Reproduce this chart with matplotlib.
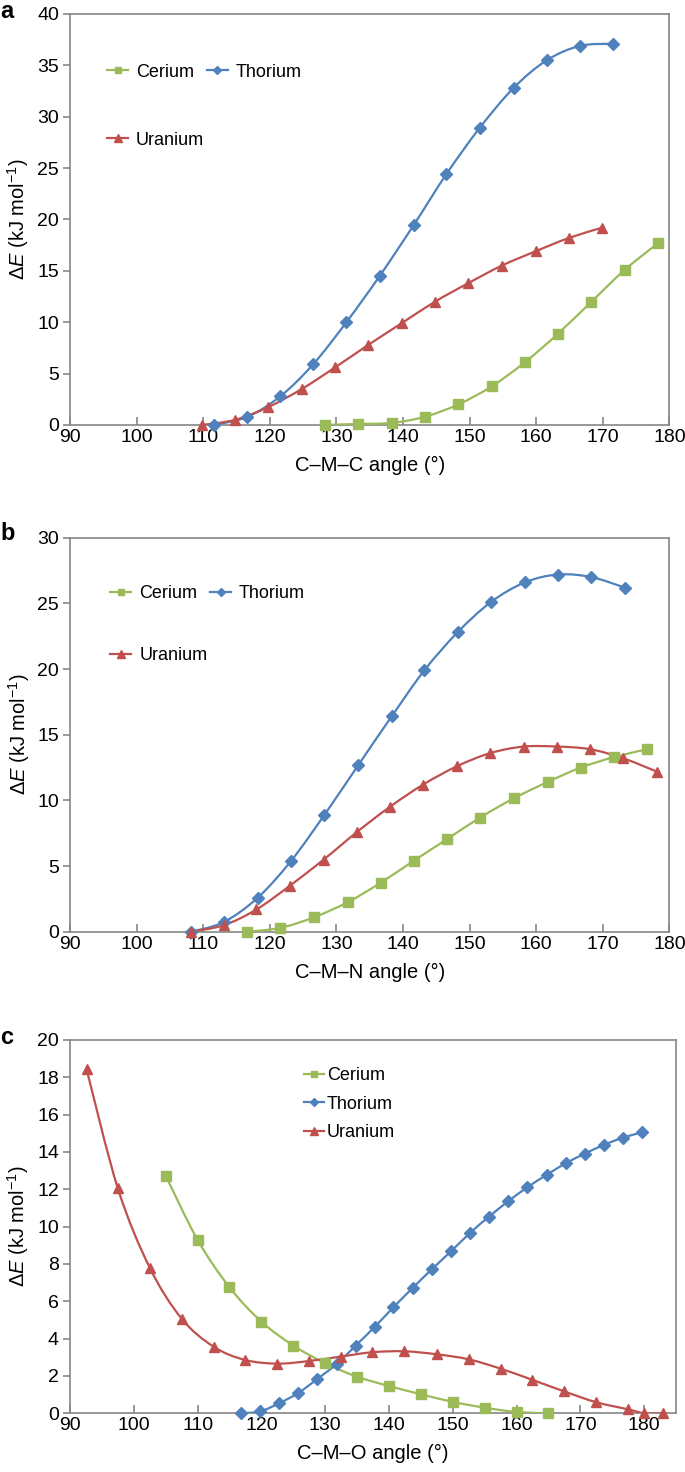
import numpy as np
import matplotlib.pyplot as plt
from matplotlib.path import Path
from matplotlib.patches import PathPatch
from matplotlib.lines import Line2D

plt.rcParams['font.family'] = ['Liberation Sans', 'DejaVu Sans']
plt.rcParams['mathtext.fontset'] = 'custom'
plt.rcParams['mathtext.rm'] = 'Liberation Sans'
plt.rcParams['mathtext.it'] = 'Liberation Sans:italic'

# panel a: C-M-C
a_ce_x = [128.3, 133.3, 138.3, 143.3, 148.3, 153.3, 158.3, 163.3, 168.3, 173.3, 178.3]
a_ce_y = [0, 0.1, 0.2, 0.8, 2.0, 3.75, 6.1, 8.9, 12.0, 15.1, 17.7]
a_th_x = [111.6, 116.6, 121.6, 126.5, 131.5, 136.5, 141.6, 146.5, 151.5, 156.6, 161.6, 166.6, 171.6]
a_th_y = [0, 0.78, 2.8, 5.9, 10.0, 14.5, 19.45, 24.4, 28.9, 32.8, 35.5, 36.9, 37.1]
a_u_x = [109.8, 114.8, 119.8, 124.8, 129.8, 134.8, 139.8, 144.8, 149.8, 154.8, 159.9, 164.9, 169.9]
a_u_y = [0, 0.5, 1.75, 3.5, 5.6, 7.8, 9.9, 12.0, 13.8, 15.5, 16.9, 18.2, 19.2]

# panel b: C-M-N
b_ce_x = [116.6, 121.6, 126.6, 131.7, 136.7, 141.6, 146.6, 151.6, 156.6, 161.7, 166.7, 171.7, 176.7]
b_ce_y = [0, 0.3, 1.1, 2.25, 3.75, 5.4, 7.05, 8.7, 10.15, 11.4, 12.5, 13.3, 13.9]
b_th_x = [108.2, 113.1, 118.2, 123.2, 128.2, 133.3, 138.3, 143.2, 148.2, 153.2, 158.3, 163.3, 168.3, 173.3]
b_th_y = [0, 0.74, 2.6, 5.4, 8.9, 12.7, 16.4, 19.9, 22.8, 25.1, 26.6, 27.2, 27.0, 26.2]
b_u_x = [108.1, 113.1, 118.0, 123.0, 128.1, 133.1, 138.0, 143.0, 148.1, 153.1, 158.1, 163.1, 168.1, 173.1, 178.1]
b_u_y = [0, 0.5, 1.7, 3.5, 5.5, 7.6, 9.5, 11.2, 12.6, 13.6, 14.1, 14.1, 13.9, 13.2, 12.2]

# panel c: C-M-O
c_ce_x = [105, 110, 115, 120, 125, 130, 135, 140, 145, 150, 155, 160, 165]
c_ce_y = [12.73, 9.29, 6.75, 4.91, 3.63, 2.68, 1.96, 1.46, 1.02, 0.61, 0.30, 0.07, 0.0]
c_th_x = [116.8, 119.8, 122.8, 125.8, 128.7, 131.8, 134.8, 137.8, 140.7, 143.7, 146.7,
          149.8, 152.7, 155.7, 158.7, 161.7, 164.7, 167.8, 170.7, 173.7, 176.7, 179.7]
c_th_y = [0, 0.1, 0.54, 1.09, 1.82, 2.64, 3.63, 4.64, 5.68, 6.71, 7.71,
          8.70, 9.66, 10.54, 11.36, 12.11, 12.77, 13.41, 13.91, 14.38, 14.77, 15.05]
c_u_x = [92.6, 97.5, 102.5, 107.5, 112.5, 117.4, 122.5, 127.5, 132.5, 137.4, 142.4,
         147.5, 152.5, 157.5, 162.4, 167.4, 172.5, 177.5, 180.0, 182.9]
c_u_y = [18.43, 12.05, 7.8, 5.07, 3.57, 2.86, 2.66, 2.8, 3.04, 3.27, 3.32,
         3.16, 2.89, 2.39, 1.8, 1.18, 0.59, 0.21, 0.0, 0.0]

green = '#9BBB59'
blue = '#4F81BD'
red = '#C0504D'
frame = '#868686'


def smooth_path(x, y):
    # excel-like smoothed line (catmull-rom as bezier)
    p = np.column_stack([x, y]).astype(float)
    n = len(p)
    verts = [p[0]]
    codes = [Path.MOVETO]
    for i in range(n - 1):
        p0 = p[i - 1] if i > 0 else p[i]
        p3 = p[i + 2] if i + 2 < n else p[i + 1]
        verts += [p[i] + (p[i + 1] - p0) / 6, p[i + 1] - (p3 - p[i]) / 6, p[i + 1]]
        codes += [Path.CURVE4] * 3
    return Path(verts, codes)


def series(ax, x, y, color, marker, ms):
    ax.add_patch(PathPatch(smooth_path(x, y), fill=False, edgecolor=color, lw=1.6, zorder=3))
    ax.plot(x, y, ls='none', marker=marker, ms=ms, color=color, mec=color, zorder=4, clip_on=False)


def style(ax, xmax, ymax, ystep, xlab):
    ax.set_xlim(90, xmax)
    ax.set_ylim(0, ymax)
    ax.set_xticks(np.arange(90, 181, 10))
    ax.set_yticks(np.arange(0, ymax + 0.1, ystep))
    for s in ax.spines.values():
        s.set_color(frame)
        s.set_linewidth(1.2)
    ax.tick_params(axis='x', direction='in', length=6, width=1.2, color=frame, labelsize=14, pad=3)
    ax.tick_params(axis='y', direction='out', length=5, width=1.2, color=frame, labelsize=14, pad=3)
    ax.set_xlabel(xlab, fontsize=14.5, labelpad=7)
    ax.set_ylabel(r'$\Delta E$ (kJ mol$^{-1}$)', fontsize=14.5, labelpad=4)


def handles():
    ce = Line2D([], [], color=green, marker='s', ms=5, lw=1.6, label='Cerium')
    th = Line2D([], [], color=blue, marker='D', ms=4.5, lw=1.6, label='Thorium')
    u = Line2D([], [], color=red, marker='^', ms=5.5, lw=1.6, label='Uranium')
    return ce, th, u


fig = plt.figure(figsize=(6.85, 14.72), dpi=100)

# a
ax = fig.add_axes([0.1022, 0.7113, 0.875, 0.2792])
series(ax, a_ce_x, a_ce_y, green, 's', 7)
series(ax, a_th_x, a_th_y, blue, 'D', 6)
series(ax, a_u_x, a_u_y, red, '^', 7.5)
style(ax, 180, 40, 5, 'C–M–C angle (°)')
ce, th, u = handles()
ax.legend(handles=[ce, u, th], ncol=2, loc='upper left', bbox_to_anchor=(0.062, 0.879),
          frameon=False, fontsize=13, borderpad=0, borderaxespad=0, labelspacing=2.83,
          handlelength=1.15, handletextpad=0.45, columnspacing=0.15)

# b
ax = fig.add_axes([0.1022, 0.3670, 0.875, 0.2677])
series(ax, b_ce_x, b_ce_y, green, 's', 7)
series(ax, b_th_x, b_th_y, blue, 'D', 6)
series(ax, b_u_x, b_u_y, red, '^', 7.5)
style(ax, 180, 30, 5, 'C–M–N angle (°)')
ce, th, u = handles()
ax.legend(handles=[ce, u, th], ncol=2, loc='upper left', bbox_to_anchor=(0.0675, 0.880),
          frameon=False, fontsize=13, borderpad=0, borderaxespad=0, labelspacing=2.5,
          handlelength=1.15, handletextpad=0.45, columnspacing=0.15)

# c
ax = fig.add_axes([0.1022, 0.0399, 0.8847, 0.2536])
series(ax, c_ce_x, c_ce_y, green, 's', 7)
series(ax, c_th_x, c_th_y, blue, 'D', 6)
series(ax, c_u_x, c_u_y, red, '^', 7.5)
style(ax, 185, 20, 2, 'C–M–O angle (°)')
ce, th, u = handles()
ax.legend(handles=[ce, th, u], loc='upper left', bbox_to_anchor=(0.3855, 0.928),
          frameon=False, fontsize=13, borderpad=0, borderaxespad=0, labelspacing=0.65,
          handlelength=1.15, handletextpad=0.15)

for lab, ytop in [('a', 1.0), ('b', 1 - 490 / 1472 - 0.022), ('c', 1 - 980 / 1472 - 0.031)]:
    fig.text(0.0, ytop, lab, fontsize=17, fontweight='bold', va='top', ha='left')

fig.savefig('out.png', dpi=100)
